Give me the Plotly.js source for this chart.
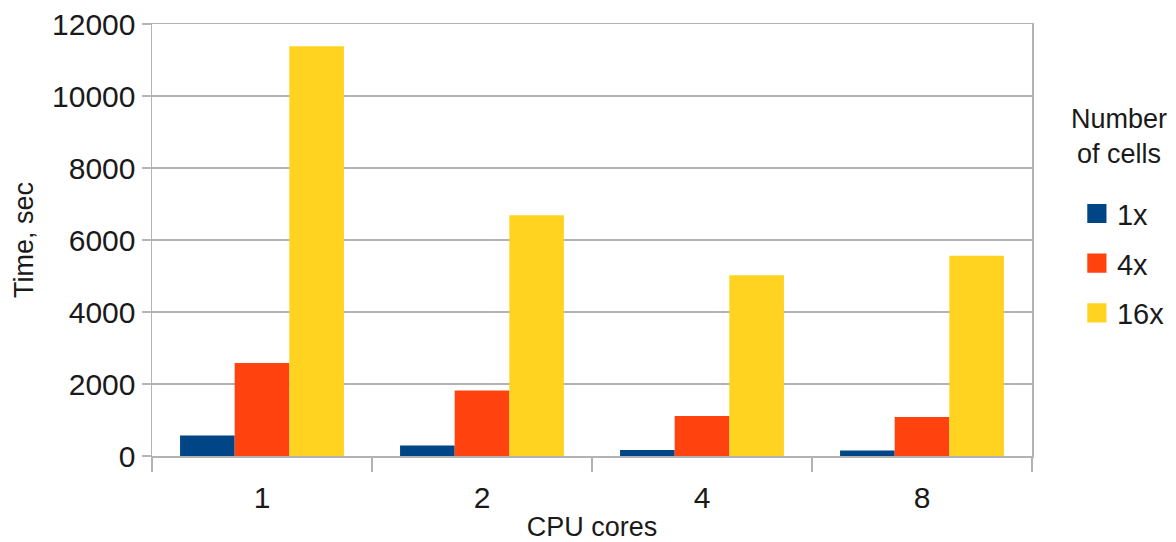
<!DOCTYPE html>
<html>
<head>
<meta charset="utf-8">
<script src="https://cdn.plot.ly/plotly-3.0.1.min.js"></script>
<style>
  html, body { margin: 0; padding: 0; background: #ffffff; }
  #chart { width: 1176px; height: 542px; }
</style>
</head>
<body>
<div id="chart"></div>
<script>
// CPU core counts (categories on the x axis)
const cores = ['1', '2', '4', '8'];

// Run time in seconds for each mesh size
const time1x  = [570, 290, 170, 150];
const time4x  = [2580, 1820, 1110, 1080];
const time16x = [11380, 6690, 5020, 5560];

const seriesNames = ['1x', '4x', '16x'];
const seriesColors = ['#004586', '#ff420e', '#ffd320'];
const seriesValues = [time1x, time4x, time16x];

const yTicks = [0, 2000, 4000, 6000, 8000, 10000, 12000];

const font = 'Liberation Sans, Arial, sans-serif';
const textColor = '#1a1a1a';
const gridColor = '#b3b3b3';

const traces = seriesValues.map((vals, i) => ({
  type: 'bar',
  name: seriesNames[i],
  x: cores,
  y: vals,
  legendgroup: 'g' + i,
  marker: { color: seriesColors[i], line: { width: 0 } },
  hoverinfo: 'x+y+name'
}));

const layout = {
  width: 1176,
  height: 542,
  margin: { l: 152, r: 144, t: 24, b: 86, pad: 0, autoexpand: false },
  paper_bgcolor: '#ffffff',
  plot_bgcolor: '#ffffff',
  font: { family: font, color: textColor, size: 28 },
  barmode: 'group',
  bargap: 0.255,
  bargroupgap: 0,
  xaxis: {
    type: 'category',
    tickson: 'boundaries',
    ticks: 'outside',
    ticklen: 14,
    tickwidth: 1.5,
    tickcolor: gridColor,
    ticklabelstandoff: 14,
    showline: true,
    linecolor: gridColor,
    linewidth: 1.5,
    mirror: true,
    showgrid: false,
    zeroline: false,
    tickfont: { family: font, size: 30, color: textColor },
    title: { text: 'CPU cores', font: { family: font, size: 27, color: textColor }, standoff: 6 }
  },
  yaxis: {
    range: [0, 12000],
    tickvals: yTicks,
    ticktext: yTicks.map(String),
    ticks: 'outside',
    ticklen: 9,
    tickwidth: 1.5,
    tickcolor: gridColor,
    showline: true,
    linecolor: gridColor,
    linewidth: 1.5,
    mirror: true,
    showgrid: true,
    gridcolor: gridColor,
    gridwidth: 1.5,
    zeroline: false,
    tickfont: { family: font, size: 30, color: textColor },
    title: { text: 'Time, sec', font: { family: font, size: 27, color: textColor }, standoff: 10 }
  },
  showlegend: true,
  legend: {
    x: 1.051,
    y: 0.62,
    xanchor: 'left',
    yanchor: 'top',
    bgcolor: 'rgba(0,0,0,0)',
    borderwidth: 0,
    traceorder: 'grouped',
    tracegroupgap: 9,
    font: { family: font, size: 29, color: textColor }
  },
  annotations: [{
    // legend heading
    text: 'Number<br>of cells',
    xref: 'paper', yref: 'paper',
    x: 1.099, y: 0.74,
    xanchor: 'center', yanchor: 'middle',
    align: 'center',
    showarrow: false,
    font: { family: font, size: 27, color: textColor }
  }]
};

Plotly.newPlot('chart', traces, layout, { displayModeBar: false, staticPlot: true }).then(gd => {
  // enlarge the legend swatches
  gd.querySelectorAll('.legend .legendpoints path').forEach(p => {
    const t = p.getAttribute('transform') || '';
    p.setAttribute('transform', t + ' scale(1.6)');
  });
});
</script>
</body>
</html>
